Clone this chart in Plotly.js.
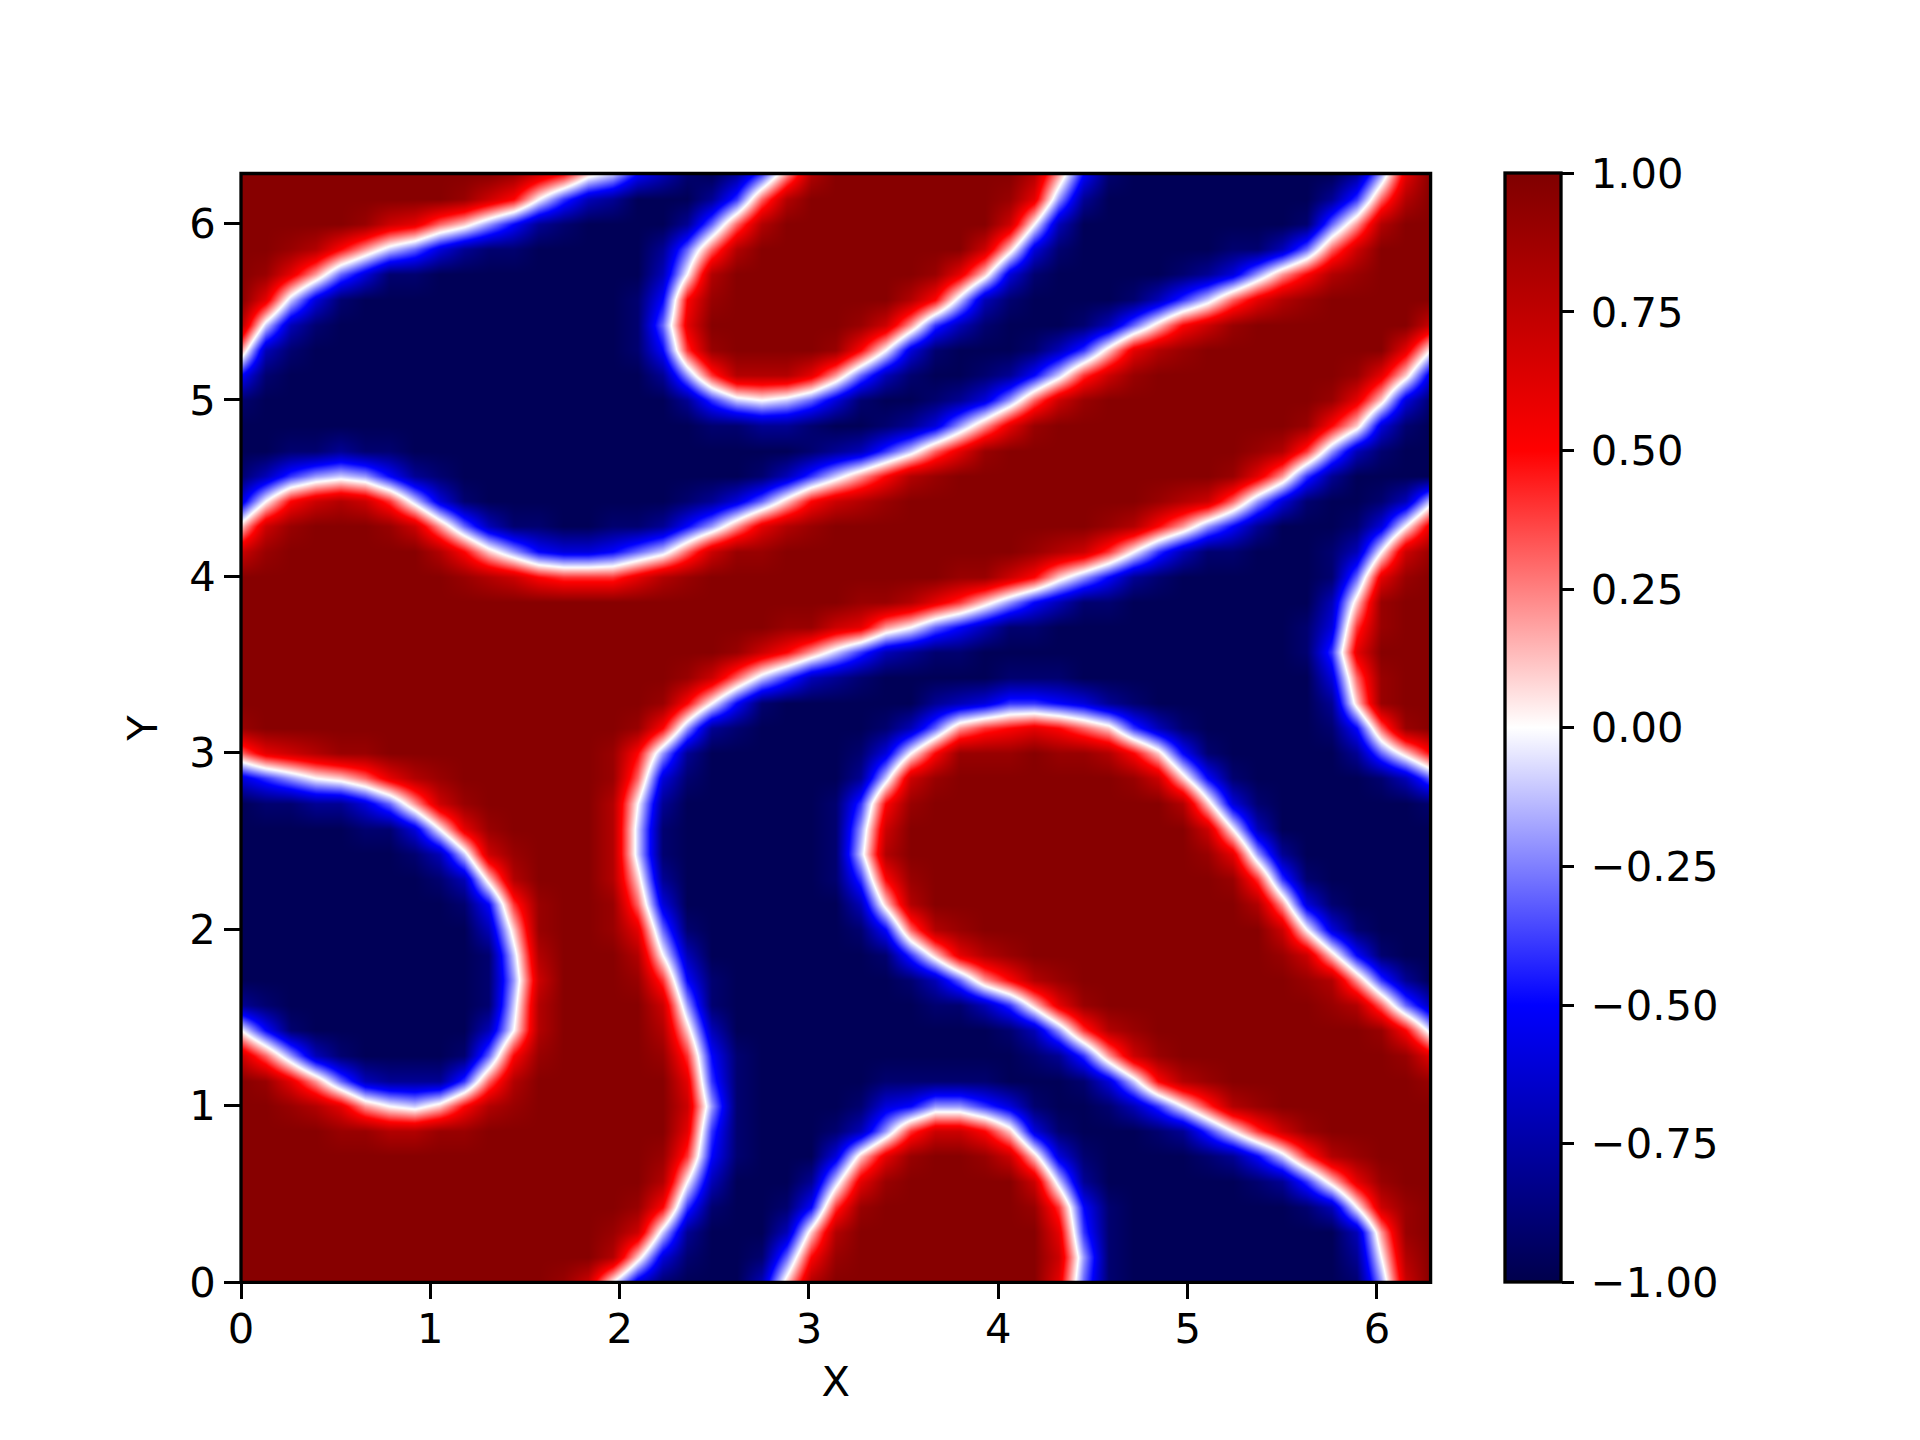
<!DOCTYPE html>
<html>
<head>
<meta charset="utf-8">
<script src="https://cdn.plot.ly/plotly-3.0.1.min.js"></script>
<style>html,body{margin:0;padding:0;background:#fff}</style>
</head>
<body>
<div id="chart" style="width:1920px;height:1440px"></div>
<script>
// field values, bottom row first, 49 nodes per row
const H = .97, L = -.97;
const fieldRows = [
[H,H,H,H,H,H,H,H,H,H, H,H,H,.9,.7,0,-.6,-.9,L,L, L,-.7,.1,.8,H,H,H,H,H,H, H,H,H,.6,-.3,-.9,L,L,L,L, L,L,L,L,L,-.9,-.2,.7,H],
[H,H,H,H,H,H,H,H,H,H, H,H,H,H,H,.8,.1,-.6,-.9,L, L,-.9,-.3,.5,.9,H,H,H,H,H, H,H,H,.7,-.2,-.9,L,L,L,L, L,L,L,L,L,-.8,0,.8,H],
[H,H,H,H,H,H,H,H,H,H, H,H,H,H,H,.9,.7,-.1,-.8,L, L,L,-.7,.1,.8,H,H,H,H,H, H,H,H,.6,-.4,-.9,L,L,L,L, L,L,L,L,L,-.7,.2,.9,H],
[H,H,H,H,H,H,H,H,H,H, H,H,H,H,H,H,.9,.5,-.4,-.9, L,L,-.9,-.5,.4,.9,H,H,H,H, H,H,.9,.4,-.5,-.9,L,L,L,L, L,L,L,-.9,-.7,0,.7,.9,H],
[H,H,H,H,H,H,H,H,H,H, H,H,H,H,H,H,H,.8,0,-.7, L,L,L,-.8,-.1,.6,.9,H,H,H, H,H,.7,-.1,-.8,L,L,L,L,L, L,-.9,-.8,-.4,.1,.6,.9,H,H],
[H,H,H,H,H,H,H,H,H,H, H,H,H,H,H,H,H,.9,.4,-.5, -.9,L,L,L,-.6,.1,.6,.9,H,H, .9,.7,.1,-.6,-.9,L,L,L,L,-.9, -.8,-.5,-.1,.4,.8,.9,H,H,H],
[H,H,H,H,.9,.9,.8,.8,.9,.9, H,H,H,H,H,H,H,H,.6,-.4, -.9,L,L,L,-.9,-.7,-.2,.4,.7,.7, .5,.1,-.6,-.9,L,L,L,-.9,-.8,-.4, 0,.4,.7,.9,H,H,H,H,H],
[H,H,.9,.8,.6,.2,0,-.1,.1,.5, .8,.9,H,H,H,H,H,H,.7,-.2, -.9,L,L,L,L,-.9,-.6,-.5,-.2,-.2, -.4,-.6,-.9,L,L,-.9,-.7,-.4,0,.4, .8,.9,H,H,H,H,H,H,H],
[H,.9,.6,.2,-.3,-.7,-.8,-.8,-.8,-.4, .3,.8,H,H,H,H,H,H,.6,-.4, -.9,L,L,L,L,L,-.9,-.9,-.9,-.9, -.9,L,L,L,-.9,-.6,-.1,.5,.8,.9, H,H,H,H,H,H,H,H,.9],
[.7,.3,-.2,-.7,-.9,L,L,L,L,-.9, -.3,.5,.9,H,H,H,H,.9,.4,-.5, -.9,L,L,L,L,L,L,L,L,L, L,L,-.9,-.8,-.4,.2,.7,.9,H,H, H,H,H,H,H,H,H,.9,.6],
[0,-.5,-.9,L,L,L,L,L,L,L, -.7,0,.8,H,H,H,H,.8,.1,-.7, L,L,L,L,L,L,L,L,L,L, L,-.9,-.7,-.2,.4,.8,.9,H,H,H, H,H,H,H,H,H,.9,.5,-.1],
[-.8,-.9,L,L,L,L,L,L,L,L, -.9,-.1,.8,H,H,H,H,.7,-.2,-.9, L,L,L,L,L,L,L,L,-.9,-.9, -.7,-.4,.1,.6,.9,H,H,H,H,H, H,H,H,H,.9,.8,.3,-.3,-.7],
[L,L,L,L,L,L,L,L,L,L, -.9,-.2,.7,H,H,H,.9,.4,-.5,-.9, L,L,L,L,L,L,L,-.9,-.7,-.3, .2,.5,.8,.9,H,H,H,H,H,H, H,H,H,.9,.8,.2,-.4,-.8,L],
[L,L,L,L,L,L,L,L,L,L, -.9,-.1,.8,H,H,H,.8,0,-.7,L, L,L,L,L,L,L,-.9,-.4,.1,.6, .8,.9,H,H,H,H,H,H,H,H, H,H,.9,.7,.1,-.5,-.9,L,L],
[L,L,L,L,L,L,L,L,L,L, -.7,.1,.9,H,H,.9,.6,-.3,-.9,L, L,L,L,L,L,-.9,-.5,.3,.8,.9, H,H,H,H,H,H,H,H,H,H, H,H,.7,0,-.6,-.9,L,L,L],
[L,L,L,L,L,L,L,L,L,-.9, -.5,.4,.9,H,H,.9,.3,-.6,L,L, L,L,L,L,L,-.7,.1,.8,H,H, H,H,H,H,H,H,H,H,H,H, H,.8,.2,-.6,-.9,L,L,L,L],
[L,L,L,L,L,L,L,L,-.9,-.7, .1,.8,H,H,H,.8,.1,-.8,L,L, L,L,L,L,-.9,-.4,.5,.9,H,H, H,H,H,H,H,H,H,H,H,H, .9,.4,-.4,-.9,L,L,L,L,L],
[L,L,L,L,L,L,L,-.9,-.7,-.1, .7,.9,H,H,H,.8,-.1,-.9,L,L, L,L,L,L,-.9,-.1,.8,H,H,H, H,H,H,H,H,H,H,H,H,.9, .6,-.2,-.8,L,L,L,L,L,L],
[L,L,L,L,L,-.9,-.9,-.6,0,.6, .9,H,H,H,H,.8,-.1,-.9,L,L, L,L,L,L,-.9,-.2,.7,H,H,H, H,H,H,H,H,H,H,H,H,.7, 0,-.7,L,L,L,L,L,L,L],
[L,-.9,-.9,-.8,-.8,-.6,-.3,.2,.7,.9, H,H,H,H,H,.8,0,-.8,L,L, L,L,L,L,-.9,-.4,.5,.9,H,H, H,H,H,H,H,H,H,H,.8,.1, -.6,-.9,L,L,L,L,L,L,-.9],
[-.6,-.4,-.2,0,.1,.3,.6,.8,.9,H, H,H,H,H,H,.9,.3,-.6,-.9,L, L,L,L,L,L,-.8,-.1,.7,.9,H, H,H,H,H,H,H,.9,.7,.1,-.5, -.9,L,L,L,L,L,-.9,-.7,-.3],
[.3,.6,.7,.8,.9,.9,H,H,H,H, H,H,H,H,H,.9,.5,-.2,-.8,L, L,L,L,L,L,-.9,-.6,0,.5,.9, .9,.9,H,.9,.9,.8,.5,.1,-.5,-.9, L,L,L,L,L,-.8,-.3,.1,.5],
[.9,H,H,H,H,H,H,H,H,H, H,H,H,H,H,H,.9,.5,-.2,-.8, -.9,L,L,L,L,L,-.9,-.7,-.3,.2, .4,.5,.6,.5,.3,.1,-.4,-.7,-.9,L, L,L,L,L,-.9,-.5,.3,.9,H],
[H,H,H,H,H,H,H,H,H,H, H,H,H,H,H,H,H,.9,.5,0, -.5,-.9,L,L,L,L,L,L,-.8,-.7, -.6,-.4,-.4,-.5,-.6,-.8,-.9,L,L,L, L,L,L,L,-.8,.1,.9,H,H],
[H,H,H,H,H,H,H,H,H,H, H,H,H,H,H,H,H,H,.9,.7, .3,-.1,-.4,-.7,-.8,-.9,L,L,L,L, L,-.9,-.9,-.9,L,L,L,L,L,L, L,L,L,L,-.6,.3,.9,H,H],
[H,H,H,H,H,H,H,H,H,H, H,H,H,H,H,H,H,H,H,H, .9,.7,.5,.2,-.1,-.4,-.7,-.8,-.9,-.9, L,L,L,L,L,L,L,L,L,L, L,L,L,-.9,-.4,.6,H,H,H],
[H,H,H,H,H,H,H,H,H,H, H,H,H,H,H,H,H,H,H,H, H,H,.9,.9,.7,.6,.2,0,-.3,-.5, -.7,-.9,-.9,L,L,L,L,L,L,L, L,L,L,-.9,-.6,.4,.9,H,H],
[H,H,H,H,H,H,H,H,H,H, H,H,H,H,H,H,H,H,H,H, H,H,H,H,H,.9,.9,.8,.6,.4, .1,-.2,-.5,-.7,-.9,-.9,L,L,L,L, L,L,L,L,-.7,.1,.9,H,H],
[H,H,H,H,H,H,H,H,H,.9, .8,.7,.5,.4,.4,.4,.6,.8,.9,H, H,H,H,H,H,H,H,H,H,.9, .9,.7,.5,.1,-.2,-.5,-.8,-.9,L,L, L,L,L,L,-.9,-.3,.6,.9,H],
[.7,.9,H,H,H,H,H,H,.8,.5, .1,-.2,-.5,-.6,-.6,-.5,-.3,-.1,.3,.7, .9,.9,H,H,H,H,H,H,H,H, H,H,.9,.8,.7,.4,0,-.4,-.7,-.9, -.9,L,L,L,-.9,-.7,0,.7,.9],
[.1,.7,.9,H,H,H,.9,.7,.2,-.3, -.7,-.9,-.9,L,L,-.9,-.9,-.8,-.5,-.2, .2,.6,.8,.9,H,H,H,H,H,H, H,H,H,H,H,.9,.8,.5,.2,-.2, -.5,-.8,L,L,L,-.9,-.6,0,.6],
[-.6,0,.5,.7,.8,.7,.4,-.1,-.6,-.9, L,L,L,L,L,L,L,L,-.9,-.8, -.6,-.3,.1,.5,.7,.8,.9,H,H,H, H,H,H,H,H,H,H,.9,.8,.7, .3,-.2,-.6,-.9,L,L,-.9,-.7,-.1],
[-.9,-.7,-.4,-.2,-.1,-.2,-.5,-.8,-.9,L, L,L,L,L,L,L,L,L,L,L, L,-.9,-.7,-.4,-.1,.2,.5,.8,.9,H, H,H,H,H,H,H,H,H,H,H, .9,.6,.2,-.4,-.8,L,L,L,L],
[L,L,-.9,-.9,-.8,-.9,-.9,L,L,L, L,L,L,L,L,L,L,L,L,L, L,L,L,-.9,-.8,-.7,-.4,-.1,.3,.6, .9,H,H,H,H,H,H,H,H,H, H,.9,.8,.4,-.2,-.7,-.9,L,L],
[L,L,L,L,L,L,L,L,L,L, L,L,L,L,L,L,L,L,L,-.9, -.9,-.8,-.8,-.9,L,L,-.9,-.8,-.6,-.2, .2,.6,.9,H,H,H,H,H,H,H, H,H,H,.9,.5,.1,-.6,-.9,L],
[-.9,L,L,L,L,L,L,L,L,L, L,L,L,L,L,L,L,L,-.8,-.4, -.1,0,-.1,-.3,-.6,-.9,L,L,-.9,-.8, -.6,-.2,.3,.7,.9,H,H,H,H,H, H,H,H,H,.9,.6,.1,-.6,-.9],
[-.5,-.9,L,L,L,L,L,L,L,L, L,L,L,L,L,L,L,-.8,-.2,.4, .8,.8,.8,.6,.2,-.3,-.7,-.9,L,L, -.9,-.8,-.5,-.1,.4,.7,.9,H,H,H, H,H,H,H,H,.9,.6,.1,-.6],
[.2,-.7,-.9,L,L,L,L,L,L,L, L,L,L,L,L,L,-.9,-.5,.4,.9, H,H,H,H,.9,.5,0,-.6,-.9,L, L,L,-.9,-.7,-.4,.1,.6,.8,.9,H, H,H,H,H,H,H,H,.6,0],
[.8,-.1,-.7,-.9,L,L,L,L,L,L, L,L,L,L,L,L,-.9,-.3,.6,H, H,H,H,H,H,.9,.7,.2,-.4,-.7, -.9,L,L,L,-.9,-.7,-.3,.1,.5,.7, .9,H,H,H,H,H,H,H,.7],
[H,.6,-.1,-.6,-.9,L,L,L,L,L, L,L,L,L,L,L,-.9,-.5,.5,.9, H,H,H,H,H,H,H,.8,.5,-.1, -.7,-.9,L,L,L,L,-.9,-.7,-.4,-.1, .3,.6,.8,.9,H,H,H,H,H],
[H,.9,.6,.2,-.3,-.6,-.9,-.9,L,L, L,L,L,L,L,L,L,-.7,0,.8, H,H,H,H,H,H,H,H,.9,.6, .1,-.6,-.9,L,L,L,L,L,-.9,-.8, -.6,-.2,.2,.5,.8,.9,H,H,H],
[H,H,.9,.8,.5,.2,-.1,-.3,-.6,-.8, -.9,-.9,L,L,L,L,L,-.8,-.3,.3, .8,H,H,H,H,H,H,H,H,H, .7,.1,-.6,-.9,L,L,L,L,L,L, -.9,-.9,-.7,-.3,.3,.7,H,H,H],
[H,H,H,H,H,.9,.7,.6,.3,.1, -.2,-.5,-.8,-.9,L,L,L,L,-.8,-.3, .3,.8,H,H,H,H,H,H,H,H, H,.7,0,-.7,L,L,L,L,L,L, L,L,L,-.9,-.3,.2,.8,H,H],
[H,H,H,H,H,H,H,H,H,.9, .7,.5,0,-.4,-.7,-.8,L,L,L,-.8, -.4,.3,.8,H,H,H,H,H,H,H, H,.9,.6,-.2,-.8,L,L,L,L,L, L,L,L,L,-.8,-.4,.3,.8,H],
[H,H,H,H,H,H,H,H,H,H, H,.9,.7,.5,.1,-.1,-.5,-.7,-.9,L, -.8,-.4,.2,.8,H,H,H,H,H,H, H,H,.8,.2,-.5,-.9,L,L,L,L, L,L,L,L,L,-.8,-.2,.6,H]
];
const axisTicks = [0, 1, 2, 3, 4, 5, 6];
const barTicks = [-1, -.75, -.5, -.25, 0, .25, .5, .75, 1];
const barLabels = ['\u22121.00', '\u22120.75', '\u22120.50', '\u22120.25', '0.00', '0.25', '0.50', '0.75', '1.00'];
const seismic = [[0, 'rgb(0,0,76)'], [.25, 'rgb(0,0,255)'], [.5, 'rgb(255,255,255)'], [.75, 'rgb(255,0,0)'], [1, 'rgb(127,0,0)']];

const twoPi = 6.283185;
const tickFont = {family: 'DejaVu Sans', size: 41.67, color: '#000'};

// plot box in page pixels
const boxLeft = 241, boxRight = 1430.6, boxTop = 173.5, boxBottom = 1282.3;

function axis(title, standoff) {
  return {
    range: [0, twoPi],
    tickmode: 'array',
    tickvals: axisTicks,
    ticks: 'outside',
    ticklen: 16,
    tickwidth: 3.3,
    tickcolor: '#000',
    tickfont: tickFont,
    showgrid: false,
    zeroline: false,
    showline: false,
    title: {text: title, font: tickFont, standoff: standoff}
  };
}

const trace = {
  type: 'heatmap',
  z: fieldRows,
  x0: 0,
  dx: twoPi / 48,
  y0: 0,
  dy: twoPi / 44,
  zmin: -1,
  zmax: 1,
  zsmooth: 'best',
  colorscale: seismic,
  colorbar: {
    x: 1505 / 1920,
    xanchor: 'left',
    xpad: 0,
    y: (1440 - boxBottom) / 1440,
    yanchor: 'bottom',
    ypad: 0,
    len: (boxBottom - boxTop) / 1440,
    lenmode: 'fraction',
    thickness: 56,
    outlinecolor: '#000',
    outlinewidth: 3.3,
    ticks: 'outside',
    ticklen: 12,
    tickwidth: 3.3,
    tickcolor: '#000',
    tickmode: 'array',
    tickvals: barTicks,
    ticktext: barLabels.map(function (t) { return '\u2009' + t; }),
    tickfont: tickFont
  }
};

const layout = {
  width: 1920,
  height: 1440,
  margin: {l: 0, r: 0, t: 0, b: 0},
  paper_bgcolor: '#fff',
  showlegend: false,
  xaxis: Object.assign(axis('X', 14), {domain: [boxLeft / 1920, boxRight / 1920], ticklabelstandoff: -6}),
  yaxis: Object.assign(axis('Y', 18), {domain: [(1440 - boxBottom) / 1440, (1440 - boxTop) / 1440]}),
  shapes: [{
    type: 'rect',
    xref: 'x domain',
    yref: 'y domain',
    x0: 0, x1: 1, y0: 0, y1: 1,
    line: {color: '#000', width: 3.3},
    fillcolor: 'rgba(0,0,0,0)',
    layer: 'above'
  }]
};

Plotly.newPlot('chart', [trace], layout, {displayModeBar: false});
</script>
</body>
</html>
